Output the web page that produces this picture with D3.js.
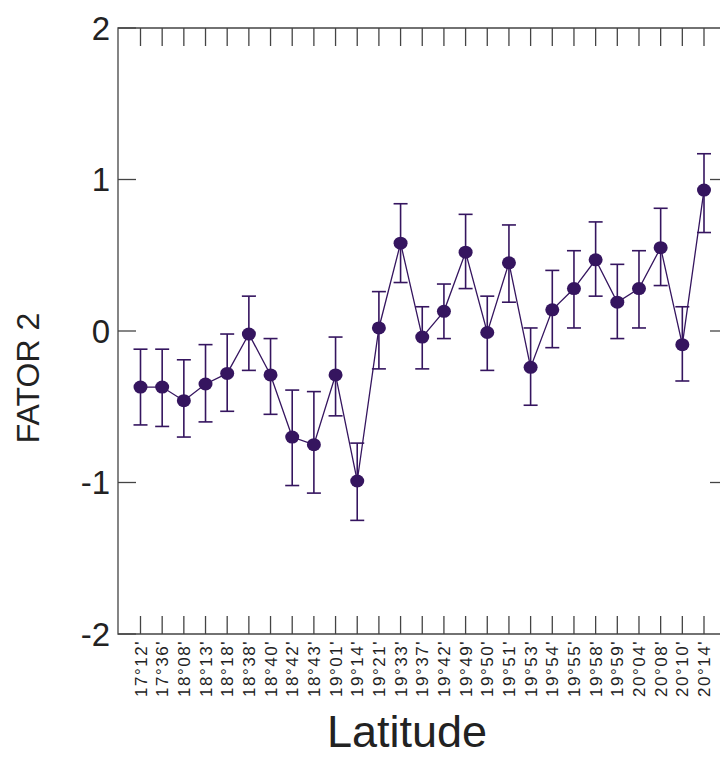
<!DOCTYPE html>
<html>
<head>
<meta charset="utf-8">
<script src="https://cdn.jsdelivr.net/npm/d3@7"></script>
<style>
  body { margin: 0; background: #fff; }
  svg { display: block; }
  text { font-family: "Liberation Sans", Arial, sans-serif; fill: #222; }
</style>
</head>
<body>
<div id="chart"></div>
<script>
// latitudes (categories)
var latitudes = ["17°12'", "17°36'", "18°08'", "18°13'", "18°18'", "18°38'", "18°40'", "18°42'", "18°43'",
    "19°01'", "19°14'", "19°21'", "19°33'", "19°37'", "19°42'", "19°49'", "19°50'", "19°51'", "19°53'",
    "19°54'", "19°55'", "19°58'", "19°59'", "20°04'", "20°08'", "20°10'", "20°14'"];

// mean factor 2 score
var fator2 = [-0.37, -0.37, -0.46, -0.35, -0.28, -0.02, -0.29, -0.70, -0.75, -0.29, -0.99, 0.02, 0.58,
    -0.04, 0.13, 0.52, -0.01, 0.45, -0.24, 0.14, 0.28, 0.47, 0.19, 0.28, 0.55, -0.09, 0.93];

// error bar top / bottom
var errUpper = [-0.12, -0.12, -0.19, -0.09, -0.02, 0.23, -0.05, -0.39, -0.40, -0.04, -0.74, 0.26, 0.84,
    0.16, 0.31, 0.77, 0.23, 0.70, 0.02, 0.40, 0.53, 0.72, 0.44, 0.53, 0.81, 0.16, 1.17];
var errLower = [-0.62, -0.63, -0.70, -0.60, -0.53, -0.26, -0.55, -1.02, -1.07, -0.56, -1.25, -0.25, 0.32,
    -0.25, -0.05, 0.28, -0.26, 0.19, -0.49, -0.11, 0.02, 0.23, -0.05, 0.02, 0.30, -0.33, 0.65];

var yTicks = [-2, -1, 0, 1, 2];

var W = 720, H = 758;
var m = { left: 118, right: 720, top: 28, bottom: 634 };
var purple = "#35155f";
var axisCol = "#444";

var svg = d3.select("#chart").append("svg")
    .attr("width", W)
    .attr("height", H);

var x = d3.scalePoint().domain(d3.range(latitudes.length)).range([140.5, 704]);
var y = d3.scaleLinear().domain([-2, 2]).range([m.bottom, m.top]);

// frame (no right spine)
svg.append("path")
    .attr("d", `M${m.right},${m.top}H${m.left}V${m.bottom}H${m.right}`)
    .attr("fill", "none")
    .attr("stroke", axisCol)
    .attr("stroke-width", 1.3);

// top / bottom ticks, pointing inward
var ticksG = svg.append("g").attr("stroke", axisCol).attr("stroke-width", 1.3);
ticksG.selectAll(".tt")
    .data(d3.range(latitudes.length))
    .enter().append("line")
    .attr("x1", d => x(d)).attr("x2", d => x(d))
    .attr("y1", m.top).attr("y2", m.top + 18);
ticksG.selectAll(".bt")
    .data(d3.range(latitudes.length))
    .enter().append("line")
    .attr("x1", d => x(d)).attr("x2", d => x(d))
    .attr("y1", m.bottom).attr("y2", m.bottom - 18);

// left ticks inside, right ticks short
ticksG.selectAll(".lt")
    .data(yTicks)
    .enter().append("line")
    .attr("x1", m.left).attr("x2", m.left + 18)
    .attr("y1", d => y(d)).attr("y2", d => y(d));
ticksG.selectAll(".rt")
    .data(yTicks.filter(d => d > -2 && d < 2))
    .enter().append("line")
    .attr("x1", m.right - 10).attr("x2", m.right)
    .attr("y1", d => y(d)).attr("y2", d => y(d));

// y tick labels
svg.selectAll(".ylab")
    .data(yTicks)
    .enter().append("text")
    .attr("x", 110)
    .attr("y", d => y(d))
    .attr("dy", "0.36em")
    .attr("text-anchor", "end")
    .style("font-size", "33px")
    .text(d => d);

// x tick labels, rotated
svg.selectAll(".xlab")
    .data(latitudes)
    .enter().append("text")
    .attr("transform", (d, i) => `translate(${x(i) + 6},${m.bottom + 6}) rotate(-90)`)
    .attr("text-anchor", "end")
    .style("font-size", "17px")
    .style("letter-spacing", "1.5px")
    .text(d => d);

// axis titles
svg.append("text")
    .attr("transform", "translate(39,378) rotate(-90)")
    .attr("text-anchor", "middle")
    .style("font-size", "32px")
    .text("FATOR 2");

svg.append("text")
    .attr("x", 407)
    .attr("y", 747)
    .attr("text-anchor", "middle")
    .style("font-size", "45px")
    .text("Latitude");

// connecting line
var line = d3.line()
    .x((d, i) => x(i))
    .y(d => y(d));

svg.append("path")
    .datum(fator2)
    .attr("d", line)
    .attr("fill", "none")
    .attr("stroke", purple)
    .attr("stroke-width", 1.3);

// error bars
var eb = svg.append("g").attr("stroke", purple).attr("stroke-width", 1.6);
var cap = 7;
fator2.forEach(function (v, i) {
    eb.append("line")
        .attr("x1", x(i)).attr("x2", x(i))
        .attr("y1", y(errUpper[i])).attr("y2", y(errLower[i]));
    eb.append("line")
        .attr("x1", x(i) - cap).attr("x2", x(i) + cap)
        .attr("y1", y(errUpper[i])).attr("y2", y(errUpper[i]));
    eb.append("line")
        .attr("x1", x(i) - cap).attr("x2", x(i) + cap)
        .attr("y1", y(errLower[i])).attr("y2", y(errLower[i]));
});

// markers
svg.selectAll(".pt")
    .data(fator2)
    .enter().append("ellipse")
    .attr("cx", (d, i) => x(i))
    .attr("cy", d => y(d))
    .attr("rx", 7)
    .attr("ry", 6.5)
    .attr("fill", purple);
</script>
</body>
</html>
